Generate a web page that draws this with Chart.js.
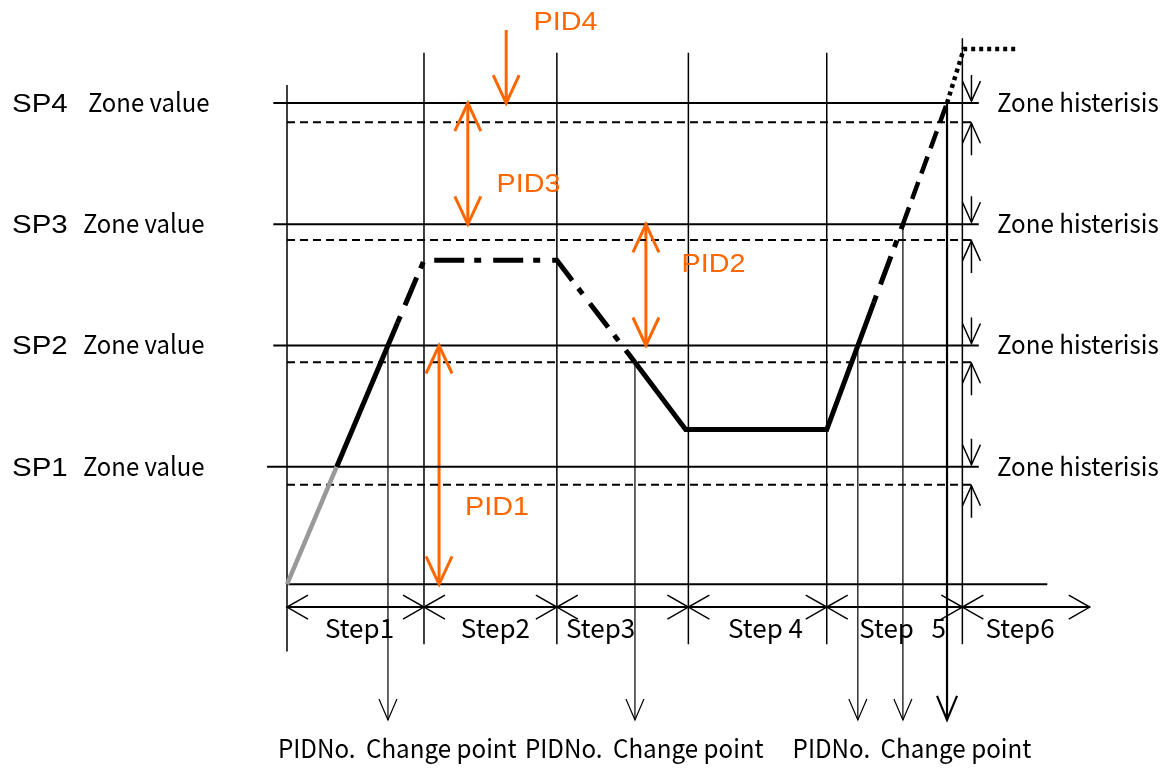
<!DOCTYPE html>
<html>
<head>
<meta charset="utf-8">
<script src="https://cdn.jsdelivr.net/npm/chart.js@4"></script>
<style>
  html, body { margin: 0; padding: 0; background: #fff; }
  #wrap { width: 1171px; height: 769px; position: relative; }
</style>
</head>
<body>
<div id="wrap"><canvas id="chart"></canvas></div>
<script>
// zone setpoints and the lower edge of each hysteresis band (process value)
const spNames = ["SP1", "SP2", "SP3", "SP4"];
const spLevels = [98, 199, 300, 401];
const hysLevels = [83, 185, 287, 385];

// program steps, boundaries on the time axis
const stepNames = ["Step1", "Step2", "Step3", "Step 4", "Step   5", "Step6"];
const stepBounds = [0, 100, 197, 293, 394, 493, 586];

// program profile (time, value) and the PID zone in use on each segment
const profileT = [0, 36.3, 80.7, 100, 197, 254, 291, 394, 428.4, 449.6, 481.8, 494, 532];
const profileV = [0, 98, 218, 270, 270, 185, 129, 129, 235, 300, 401, 446, 446];
const profileZone = [0, 1, 2, 2, 2, 1, 1, 1, 2, 3, 4, 4];

// PID number change points
const changeT = [73.7, 254, 416.7, 449.6, 481.8];
const changeV = [199, 185, 199, 300, 401];
const changeLabel = ["PIDNo.", "Change point"];

// PID ranges
const pidNames = ["PID1", "PID2", "PID3", "PID4"];
const pidFrom = [0, 199, 300, 462];
const pidTo = [199, 300, 401, 401];

const ORANGE = "#ff6600";
const GOTHIC = '26px "Noto Sans CJK JP", "Noto Sans", sans-serif';
const SANS = '25px "Liberation Sans", Arial, sans-serif';

// line look for each PID zone on the profile
const zoneStyle = [
  { color: "#999999", width: 4.5, dash: [], offset: 0 },
  { color: "#000000", width: 5, dash: [], offset: 0 },
  { color: "#000000", width: 5, dash: [30, 10, 7, 12], offset: 40 },
  { color: "#000000", width: 4.5, dash: [18, 9], offset: 0 },
  { color: "#000000", width: 4.5, dash: [4, 4], offset: 0 },
];

// layout (data units, and pixel nudges for the step captions)
const stepRowV = -19;
const arrowEndV = -113;
const pidArrowT = [111, 262, 132, 160];
const pidLabelT = [130, 288, 153, 180];
const pidLabelV = [58, 260, 327, 462];
const stepCaptionNudge = [4, 5, -22, 8, 8, -6];

function seg(x0, y0, x1, y1) {
  return [{ x: x0, y: y0 }, { x: x1, y: y1 }];
}
function lineSet(data, color, width, dash) {
  return {
    data, borderColor: color, borderWidth: width, borderDash: dash || [],
    pointRadius: 0, fill: false, tension: 0,
  };
}

const datasets = [];
datasets.push({
  data: profileT.map((t, i) => ({ x: t, y: profileV[i] })),
  borderColor: "#000", borderWidth: 5, pointRadius: 0, fill: false,
  borderJoinStyle: "miter",
  segment: {
    borderColor: c => zoneStyle[profileZone[c.p0DataIndex]].color,
    borderWidth: c => zoneStyle[profileZone[c.p0DataIndex]].width,
    borderDash: c => zoneStyle[profileZone[c.p0DataIndex]].dash,
    borderDashOffset: c => zoneStyle[profileZone[c.p0DataIndex]].offset,
  },
});
spLevels.forEach((v, i) => datasets.push(lineSet(seg(i === 0 ? -14.6 : -10, v, 505, v), "#000", 2)));
hysLevels.forEach(v => datasets.push(lineSet(seg(0, v, 500, v), "#000", 2, [8, 5])));
datasets.push(lineSet(seg(0, 0, 555, 0), "#000", 2));
datasets.push(lineSet(seg(0, stepRowV, stepBounds[6], stepRowV), "#000", 2));
for (let i = 0; i < 6; i++) {
  const top = i === 0 ? 416 : i === 5 ? 455 : 443;
  const bottom = i === 0 ? -56 : -50;
  datasets.push(lineSet(seg(stepBounds[i], top, stepBounds[i], bottom), "#000", 1.5));
}
changeT.forEach((t, i) => {
  datasets.push(lineSet(seg(t, changeV[i], t, arrowEndV), "#000", i === 4 ? 2.2 : 1.2));
});
pidNames.forEach((n, i) => {
  datasets.push(lineSet(seg(pidArrowT[i], pidFrom[i], pidArrowT[i], pidTo[i]), ORANGE, 3));
});

// open V arrowhead, tip at (x, y), pointing along (dx, dy)
function head(ctx, x, y, dx, dy, len, half) {
  const nx = -dy, ny = dx;
  ctx.beginPath();
  ctx.moveTo(x - dx * len + nx * half, y - dy * len + ny * half);
  ctx.lineTo(x, y);
  ctx.lineTo(x - dx * len - nx * half, y - dy * len - ny * half);
  ctx.stroke();
}

function label(ctx, str, x, y, font, color, align, sx) {
  ctx.save();
  ctx.font = font;
  ctx.fillStyle = color;
  ctx.textAlign = align || "left";
  ctx.textBaseline = "alphabetic";
  ctx.translate(x, y);
  ctx.scale(sx || 1, 1);
  ctx.fillText(str, 0, 0);
  ctx.restore();
}

const zoneDiagram = {
  id: "zoneDiagram",
  afterDatasetsDraw(chart) {
    const ctx = chart.ctx;
    const px = t => chart.scales.x.getPixelForValue(t);
    const py = v => chart.scales.y.getPixelForValue(v);
    ctx.save();
    ctx.lineCap = "butt";
    ctx.lineJoin = "miter";

    // step arrows
    ctx.strokeStyle = "#000";
    ctx.lineWidth = 1.5;
    const rowY = py(stepRowV);
    stepBounds.forEach((b, i) => {
      if (i > 0) head(ctx, px(b), rowY, 1, 0, 21, 12);
      if (i < stepBounds.length - 1) head(ctx, px(b), rowY, -1, 0, 21, 12);
    });
    stepNames.forEach((n, i) => {
      const cx = (px(stepBounds[i]) + px(stepBounds[i + 1])) / 2 + stepCaptionNudge[i];
      label(ctx, n, cx, rowY + 31, GOTHIC, "#000", "center");
    });

    // change point arrowheads and captions
    changeT.forEach((t, i) => {
      ctx.lineWidth = i === 4 ? 2.2 : 1.2;
      head(ctx, px(t), py(arrowEndV), 0, 1, i === 4 ? 24 : 21, i === 4 ? 10 : 9);
    });
    const groups = [px(changeT[0]), px(changeT[1]), (px(changeT[2]) + px(changeT[3]) + px(changeT[4])) / 3];
    groups.forEach(x => {
      label(ctx, changeLabel[0], x - 110, 758, GOTHIC, "#000", "left", 0.93);
      label(ctx, changeLabel[1], x - 22, 758, GOTHIC, "#000", "left", 0.93);
    });

    // hysteresis arrows and zone labels
    ctx.lineWidth = 1.5;
    const hx = px(500) - 0.5;
    spLevels.forEach((v, i) => {
      const y = py(v), yh = py(hysLevels[i]);
      ctx.beginPath();
      ctx.moveTo(hx, y - 28); ctx.lineTo(hx, y - 2);
      ctx.moveTo(hx, yh + 1); ctx.lineTo(hx, yh + 33);
      ctx.stroke();
      head(ctx, hx, y - 2, 0, 1, 20, 9);
      head(ctx, hx, yh + 1, 0, -1, 20, 9);

      label(ctx, spNames[i], 12, y + 9, SANS, "#000", "left", 1.18);
      label(ctx, "Zone value", i === 3 ? 88 : 83, y + 9, GOTHIC, "#000", "left", 0.92);
      label(ctx, "Zone histerisis", 997, y + 9, GOTHIC, "#000", "left", 0.93);
    });

    // PID ranges
    ctx.strokeStyle = ORANGE;
    ctx.lineWidth = 3;
    pidNames.forEach((n, i) => {
      const x = px(pidArrowT[i]);
      const a = py(pidFrom[i]), b = py(pidTo[i]);
      const dir = b > a ? 1 : -1;
      head(ctx, x, b, 0, dir, 28, 13);
      if (i < 3) head(ctx, x, a, 0, -dir, 28, 13);
      label(ctx, n, px(pidLabelT[i]), py(pidLabelV[i]), SANS, ORANGE, "left", 1.15);
    });
    ctx.restore();
  },
};

const chart = new Chart(document.getElementById("chart").getContext("2d"), {
  type: "line",
  data: { datasets },
  options: {
    responsive: true,
    maintainAspectRatio: false,
    animation: false,
    events: [],
    layout: { padding: 0 },
    plugins: { legend: { display: false }, tooltip: { enabled: false } },
    scales: {
      x: { type: "linear", min: -209.5, max: 645.3, display: false },
      y: { type: "linear", min: -153.9, max: 486.9, display: false },
    },
  },
  plugins: [zoneDiagram],
});
</script>
</body>
</html>
